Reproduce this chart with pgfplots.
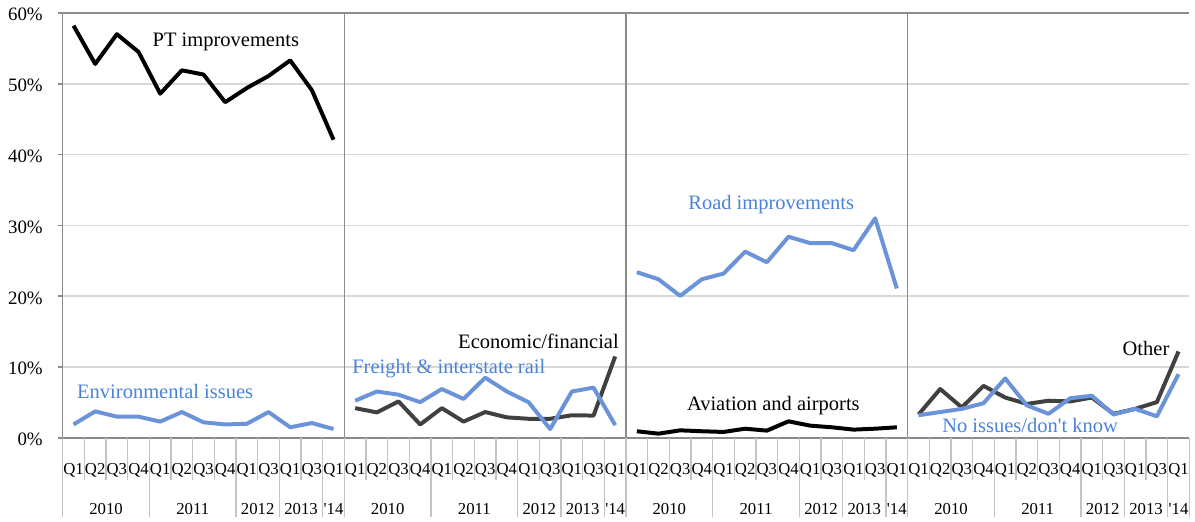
\documentclass[border=0pt]{standalone}
\usepackage{fontspec}
\setmainfont{Liberation Serif}
\usepackage{pgfplots}
\pgfplotsset{compat=1.18}
\definecolor{lineblue}{HTML}{6B93DA}
\definecolor{textblue}{HTML}{4A82D6}
\definecolor{darkline}{HTML}{404040}
\definecolor{gridc}{HTML}{D9D9D4}
\definecolor{sepc}{HTML}{8C8C8C}
\definecolor{catc}{HTML}{C4C4C4}
\tikzset{
  yearlab/.style={anchor=base, yshift=-38.5pt, font=\fontsize{8.4}{10}\selectfont},
  serlab/.style={font=\fontsize{10.3}{12}\selectfont, inner sep=0pt},
}

\begin{document}
\begin{tikzpicture}
\begin{axis}[
  scale only axis,
  width=566pt, height=213.5pt,
  xmin=0, xmax=52, ymin=0, ymax=60,
  axis lines*=left,
  axis line style={draw=sepc, line width=0.8pt},
  ytick={0,10,...,60},
  yticklabel={\pgfmathprintnumber{\tick}\%},
  yticklabel style={font=\fontsize{9.5}{11}\selectfont, xshift=-4pt, yshift=-0.8pt},
  ymajorgrids,
  grid style={gridc, line width=0.8pt},
  tick align=outside,
  major tick length=2.5pt,
  y tick style={sepc, line width=0.8pt},
  xtick={0.5,1.5,...,51.5},
  xticklabels={Q1,Q2,Q3,Q4,Q1,Q2,Q3,Q4,Q1,Q3,Q1,Q3,Q1,
               Q1,Q2,Q3,Q4,Q1,Q2,Q3,Q4,Q1,Q3,Q1,Q3,Q1,
               Q1,Q2,Q3,Q4,Q1,Q2,Q3,Q4,Q1,Q3,Q1,Q3,Q1,
               Q1,Q2,Q3,Q4,Q1,Q2,Q3,Q4,Q1,Q3,Q1,Q3,Q1},
  x tick style={draw=none},
  xticklabel style={anchor=base, yshift=-15.75pt, inner sep=0pt, font=\fontsize{8.4}{10}\selectfont},
  /pgf/number format/assume math mode=true,
  clip=false,
  every axis plot/.append style={line width=2pt, mark=none, line join=round},
]
% top border line and panel separators
\draw[sepc, line width=0.8pt] (axis cs:0,60) -- (axis cs:52,60);
\draw[sepc, line width=0.8pt] (axis cs:13,0) -- (axis cs:13,60);
\draw[sepc, line width=0.8pt] (axis cs:26,0) -- (axis cs:26,60);
\draw[sepc, line width=0.8pt] (axis cs:39,0) -- (axis cs:39,60);

% category lines below the axis
\pgfplotsinvokeforeach{1,...,51}{\draw[catc, line width=0.7pt] (axis cs:#1,0) -- ++(0pt,-21pt);}
\pgfplotsinvokeforeach{0,4,8,10,12,13,17,21,23,25,26,30,34,36,38,39,43,47,49,51,52}{\draw[catc, line width=0.7pt] (axis cs:#1,0) -- ++(0pt,-39.5pt);}

% year labels
\node[yearlab] at (axis cs:2,0) {2010};
\node[yearlab] at (axis cs:6,0) {2011};
\node[yearlab] at (axis cs:9,0) {2012};
\node[yearlab] at (axis cs:11,0) {2013};
\node[yearlab] at (axis cs:12.5,0) {\textquotesingle14};
\node[yearlab] at (axis cs:15,0) {2010};
\node[yearlab] at (axis cs:19,0) {2011};
\node[yearlab] at (axis cs:22,0) {2012};
\node[yearlab] at (axis cs:24,0) {2013};
\node[yearlab] at (axis cs:25.5,0) {\textquotesingle14};
\node[yearlab] at (axis cs:28,0) {2010};
\node[yearlab] at (axis cs:32,0) {2011};
\node[yearlab] at (axis cs:35,0) {2012};
\node[yearlab] at (axis cs:37,0) {2013};
\node[yearlab] at (axis cs:38.5,0) {\textquotesingle14};
\node[yearlab] at (axis cs:41,0) {2010};
\node[yearlab] at (axis cs:45,0) {2011};
\node[yearlab] at (axis cs:48,0) {2012};
\node[yearlab] at (axis cs:50,0) {2013};
\node[yearlab] at (axis cs:51.5,0) {\textquotesingle14};

% panel 1
\addplot[black] coordinates {(0.5,58.2) (1.5,52.8) (2.5,57.0) (3.5,54.5) (4.5,48.6) (5.5,51.9) (6.5,51.3) (7.5,47.4) (8.5,49.4) (9.5,51.1) (10.5,53.3) (11.5,49.1) (12.5,42.1)};
\addplot[lineblue] coordinates {(0.5,1.9) (1.5,3.75) (2.5,3.0) (3.5,3.0) (4.5,2.3) (5.5,3.65) (6.5,2.2) (7.5,1.9) (8.5,2.0) (9.5,3.65) (10.5,1.5) (11.5,2.1) (12.5,1.25)};
% panel 2
\addplot[darkline] coordinates {(13.5,4.2) (14.5,3.6) (15.5,5.15) (16.5,1.9) (17.5,4.2) (18.5,2.3) (19.5,3.65) (20.5,2.9) (21.5,2.7) (22.5,2.7) (23.5,3.2) (24.5,3.15) (25.5,11.5)};
\addplot[lineblue] coordinates {(13.5,5.25) (14.5,6.55) (15.5,6.1) (16.5,5.05) (17.5,6.9) (18.5,5.5) (19.5,8.5) (20.5,6.55) (21.5,5.05) (22.5,1.25) (23.5,6.55) (24.5,7.1) (25.5,1.8)};
% panel 3
\addplot[lineblue] coordinates {(26.5,23.4) (27.5,22.4) (28.5,20.05) (29.5,22.4) (30.5,23.2) (31.5,26.3) (32.5,24.8) (33.5,28.4) (34.5,27.5) (35.5,27.5) (36.5,26.5) (37.5,31.0) (38.5,21.1)};
\addplot[black] coordinates {(26.5,0.94) (27.5,0.6) (28.5,1.07) (29.5,0.94) (30.5,0.84) (31.5,1.3) (32.5,1.03) (33.5,2.34) (34.5,1.73) (35.5,1.5) (36.5,1.17) (37.5,1.3) (38.5,1.5)};
% panel 4
\addplot[darkline] coordinates {(39.5,3.3) (40.5,6.9) (41.5,4.3) (42.5,7.35) (43.5,5.7) (44.5,4.8) (45.5,5.25) (46.5,5.15) (47.5,5.7) (48.5,3.4) (49.5,4.1) (50.5,5.05) (51.5,12.2)};
\addplot[lineblue] coordinates {(39.5,3.2) (40.5,3.65) (41.5,4.1) (42.5,4.9) (43.5,8.4) (44.5,4.6) (45.5,3.4) (46.5,5.6) (47.5,5.95) (48.5,3.3) (49.5,4.1) (50.5,3.05) (51.5,9.0)};

% series labels
\node[serlab, black] at (axis cs:7.53,55.9) {PT improvements};
\node[serlab, textblue] at (axis cs:4.73,6.6) {Environmental issues};
\node[serlab, black] at (axis cs:21.96,13.6) {Economic/financial};
\node[serlab, textblue] at (axis cs:17.82,9.8) {Freight \& interstate rail};
\node[serlab, textblue] at (axis cs:32.7,32.9) {Road improvements};
\node[serlab, black] at (axis cs:32.8,4.5) {Aviation and airports};
\node[serlab, black] at (axis cs:50.0,12.65) {Other};
\node[serlab, textblue] at (axis cs:44.65,1.7) {No issues/don\textquotesingle t know};

% page frame matching the reference proportions
\path ([xshift=-31.5pt, yshift=-39.5pt]rel axis cs:0,0) rectangle ([yshift=6.5pt]rel axis cs:1,1);
\end{axis}
\end{tikzpicture}
\end{document}
